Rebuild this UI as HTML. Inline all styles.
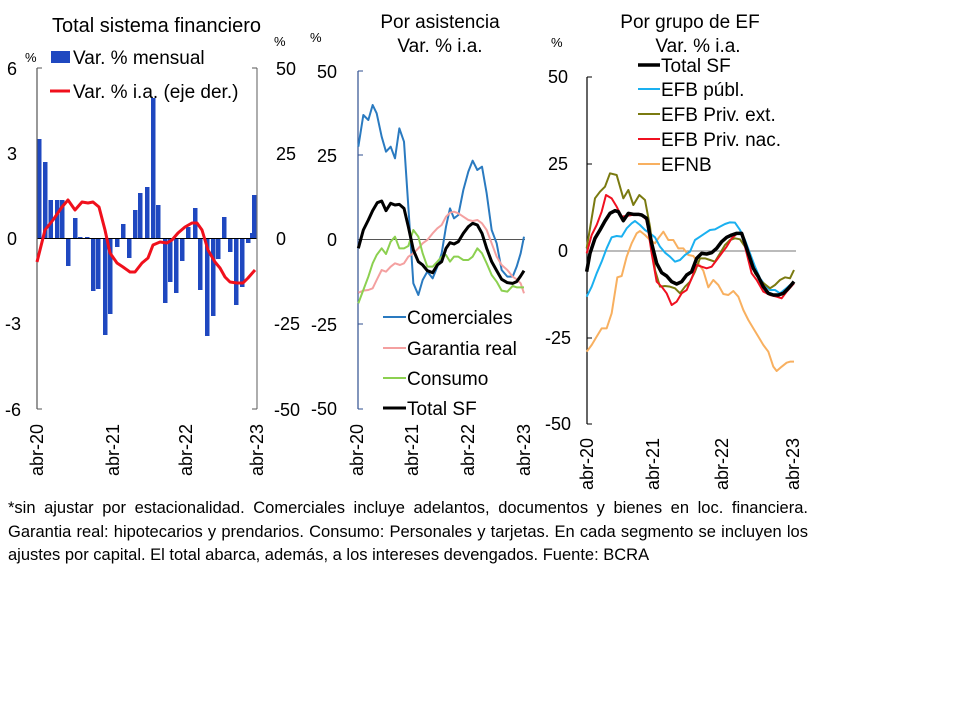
<!DOCTYPE html>
<html><head><meta charset="utf-8"><style>
body{margin:0;background:#fff;width:960px;height:720px;overflow:hidden;font-family:"Liberation Sans",sans-serif}
svg{position:absolute;left:0;top:0}
text{font-family:"Liberation Sans",sans-serif;fill:#000}
.n{vector-effect:non-scaling-stroke;fill:none;stroke-linejoin:round}
#fn{position:absolute;left:8px;top:497px;width:800px;font-size:16.5px;line-height:23.5px;color:#000}
#fn div{text-align:justify;text-align-last:justify;white-space:nowrap}
#fn div.l{text-align-last:left}
</style></head><body>
<svg width="960" height="720" viewBox="0 0 960 720">
<!-- Panel 1 -->
<text x="52" y="32" font-size="20">Total sistema financiero</text>
<rect x="51" y="51" width="19" height="12" fill="#1f48c0"/>
<text x="73" y="64" font-size="19">Var. % mensual</text>
<line x1="50" y1="91" x2="70" y2="91" stroke="#f0101c" stroke-width="3"/>
<text x="73" y="98" font-size="19">Var. % i.a. (eje der.)</text>
<text x="25" y="62" font-size="13">%</text>
<text x="274" y="46" font-size="13">%</text>
<g font-size="18" text-anchor="end">
<text x="17" y="75">6</text><text x="17" y="160">3</text><text x="17" y="245">0</text><text x="21" y="330">-3</text><text x="21" y="416">-6</text>
</g>
<g font-size="18">
<text x="276" y="75">50</text><text x="276" y="160">25</text><text x="276" y="245">0</text><text x="274" y="330">-25</text><text x="274" y="416">-50</text>
</g>
<g fill="#1f48c0">
<rect x="37" y="139" width="4.5" height="99"/>
<rect x="43" y="162" width="4.5" height="76"/>
<rect x="48.5" y="200" width="4.5" height="38"/>
<rect x="55" y="200" width="4.5" height="38"/>
<rect x="60" y="200" width="4.5" height="38"/>
<rect x="66" y="238" width="4.5" height="28"/>
<rect x="73" y="218" width="4.5" height="20"/>
<rect x="78" y="237" width="4.5" height="1"/>
<rect x="85" y="237" width="4.5" height="1"/>
<rect x="91" y="238" width="4.5" height="53"/>
<rect x="96" y="238" width="4.5" height="51"/>
<rect x="103" y="238" width="4.5" height="97"/>
<rect x="108" y="238" width="4.5" height="76"/>
<rect x="115" y="238" width="4.5" height="9"/>
<rect x="121" y="224" width="4.5" height="14"/>
<rect x="127" y="238" width="4.5" height="20"/>
<rect x="133" y="210" width="4.5" height="28"/>
<rect x="138" y="193" width="4.5" height="45"/>
<rect x="145" y="187" width="4.5" height="51"/>
<rect x="151" y="98" width="4.5" height="140"/>
<rect x="156" y="205" width="4.5" height="33"/>
<rect x="163" y="238" width="4.5" height="65"/>
<rect x="168" y="238" width="4.5" height="44"/>
<rect x="174" y="238" width="4.5" height="55"/>
<rect x="180" y="238" width="4.5" height="23"/>
<rect x="186" y="227" width="4.5" height="11"/>
<rect x="193" y="208" width="4.5" height="30"/>
<rect x="198" y="238" width="4.5" height="52"/>
<rect x="205" y="238" width="4.5" height="98"/>
<rect x="211" y="238" width="4.5" height="78"/>
<rect x="216" y="238" width="4.5" height="21"/>
<rect x="222" y="217" width="4.5" height="21"/>
<rect x="228" y="238" width="4.5" height="14"/>
<rect x="234" y="238" width="4.5" height="67"/>
<rect x="240" y="238" width="4.5" height="49"/>
<rect x="246" y="238" width="4.5" height="5"/>
<rect x="250" y="233" width="2" height="5"/>
<rect x="252" y="195" width="4.5" height="43"/>
</g>
<line x1="37" y1="238.5" x2="257" y2="238.5" stroke="#000" stroke-width="1"/>
<line x1="37" y1="68" x2="37" y2="409" stroke="#555" stroke-width="1.2"/>
<line x1="257" y1="68" x2="257" y2="409" stroke="#777" stroke-width="1.2"/>
<g stroke="#555"><line x1="37" y1="68" x2="42" y2="68"/><line x1="37" y1="409" x2="42" y2="409"/><line x1="252" y1="68" x2="257" y2="68"/><line x1="252" y1="409" x2="257" y2="409"/></g>
<polyline fill="none" stroke="#f0101c" stroke-width="3" stroke-linejoin="round" points="37,262 45,230 53,220 62,207 68,200 75,210 82,202 88,203 93,202 99,207 105,230 110,253 117,263 123,267 130,272 135,272 142,263 148,258 153,245 160,242 167,243 172,240 178,233 185,227 192,223 197,223 202,230 208,250 215,262 220,268 225,277 230,282 237,283 243,283 248,278 255,270"/>
<g font-size="18">
<text transform="translate(43,476) rotate(-90)">abr-20</text>
<text transform="translate(119,476) rotate(-90)">abr-21</text>
<text transform="translate(192,476) rotate(-90)">abr-22</text>
<text transform="translate(263,476) rotate(-90)">abr-23</text>
</g>

<!-- Panel 2 -->
<text x="440" y="28" font-size="19" text-anchor="middle">Por asistencia</text>
<text x="440" y="52" font-size="19" text-anchor="middle">Var. % i.a.</text>
<text x="310" y="42" font-size="13">%</text>
<g font-size="18" text-anchor="end">
<text x="337" y="78">50</text><text x="337" y="162">25</text><text x="337" y="246">0</text><text x="337" y="331">-25</text><text x="337" y="415">-50</text>
</g>
<line x1="358" y1="239.5" x2="525" y2="239.5" stroke="#555" stroke-width="1"/>
<line x1="358" y1="71" x2="358" y2="409" stroke="#2f4f8f" stroke-width="1.2"/>
<g stroke="#2f4f8f"><line x1="358" y1="71" x2="363" y2="71"/><line x1="358" y1="155" x2="363" y2="155"/><line x1="358" y1="324" x2="363" y2="324"/><line x1="358" y1="409" x2="363" y2="409"/></g>
<g transform="translate(300,0) scale(0.33333)">
<polyline class="n" stroke="#2a7ac0" stroke-width="2" points="175,440 190,345 205,360 218,315 230,340 245,410 258,455 272,440 285,475 298,385 312,425 325,620 340,850 355,885 368,840 382,815 398,835 412,800 425,760 438,680 450,625 462,655 475,645 490,570 505,515 518,482 532,510 546,500 560,580 575,690 590,730 605,810 622,830 638,830 650,800 662,760 672,710"/>
<polyline class="n" stroke="#f4a0a0" stroke-width="2" points="175,878 190,872 205,870 218,865 230,840 245,810 258,815 272,800 285,790 300,795 312,790 325,770 340,760 355,745 368,730 382,720 398,700 412,685 425,675 438,650 450,638 462,635 475,640 490,650 505,660 518,663 532,660 546,670 560,690 575,730 590,770 605,795 622,810 638,830 650,838 662,850 672,880"/>
<polyline class="n" stroke="#8cd050" stroke-width="2" points="175,910 190,870 205,830 218,790 230,765 245,745 258,762 272,725 285,710 298,745 312,745 325,738 340,690 355,710 368,760 382,800 398,800 412,785 425,770 438,765 450,785 462,770 475,770 490,780 505,780 518,770 532,745 546,760 560,790 575,825 590,845 605,872 622,875 638,858 650,862 672,862"/>
<polyline class="n" stroke="#000" stroke-width="3" points="175,745 190,690 205,660 218,632 232,608 245,603 258,632 272,610 285,615 298,613 312,625 325,680 340,750 355,785 368,795 382,812 398,818 412,795 425,785 438,745 450,728 462,732 475,725 490,700 505,680 518,670 532,675 546,700 560,745 575,785 590,812 605,838 622,848 638,850 650,845 662,828 672,812"/>
</g>
<line x1="383" y1="317" x2="406" y2="317" stroke="#2a7ac0" stroke-width="2"/>
<line x1="383" y1="348" x2="406" y2="348" stroke="#f4a0a0" stroke-width="2"/>
<line x1="383" y1="378" x2="406" y2="378" stroke="#8cd050" stroke-width="2"/>
<line x1="383" y1="408" x2="406" y2="408" stroke="#000" stroke-width="3"/>
<g font-size="19"><text x="407" y="324">Comerciales</text><text x="407" y="355">Garantia real</text><text x="407" y="385">Consumo</text><text x="407" y="415">Total SF</text></g>
<g font-size="18">
<text transform="translate(363,476) rotate(-90)">abr-20</text>
<text transform="translate(418,476) rotate(-90)">abr-21</text>
<text transform="translate(474,476) rotate(-90)">abr-22</text>
<text transform="translate(530,476) rotate(-90)">abr-23</text>
</g>

<!-- Panel 3 -->
<text x="690" y="28" font-size="19" text-anchor="middle">Por grupo de EF</text>
<text x="698" y="52" font-size="19" text-anchor="middle">Var. % i.a.</text>
<text x="551" y="47" font-size="13">%</text>
<g font-size="18" text-anchor="end">
<text x="568" y="83">50</text><text x="568" y="170">25</text><text x="568" y="257">0</text><text x="571" y="344">-25</text><text x="571" y="430">-50</text>
</g>
<line x1="587" y1="251" x2="796" y2="251" stroke="#777" stroke-width="1"/>
<line x1="587" y1="77" x2="587" y2="424" stroke="#000" stroke-width="1.2"/>
<g stroke="#000"><line x1="587" y1="77" x2="592" y2="77"/><line x1="587" y1="164" x2="592" y2="164"/><line x1="587" y1="338" x2="592" y2="338"/><line x1="587" y1="424" x2="592" y2="424"/></g>
<g transform="translate(540,0) scale(0.33333)">
<polyline class="n" stroke="#f8b060" stroke-width="2" points="140,1055 155,1035 170,1010 185,985 200,985 215,940 232,832 245,828 260,770 275,730 290,700 300,693 315,705 330,720 345,730 355,715 370,695 385,720 400,720 415,745 430,745 445,765 460,768 475,790 490,812 505,862 520,840 535,855 550,882 565,885 580,873 595,890 610,930 625,960 640,985 655,1010 670,1035 685,1055 700,1100 710,1113 725,1100 740,1088 750,1085 762,1085"/>
<polyline class="n" stroke="#1ab0f0" stroke-width="2" points="140,890 155,860 170,820 185,785 200,745 215,712 230,708 245,710 260,685 275,670 285,663 300,675 315,690 330,700 345,712 360,740 375,758 390,770 405,785 420,780 435,765 450,755 465,720 480,710 495,700 510,690 525,688 540,680 555,672 570,667 585,668 600,690 615,720 630,760 645,800 660,835 675,855 690,870 705,870 720,880 735,868 750,855 762,850"/>
<polyline class="n" stroke="#7a7a10" stroke-width="2" points="140,745 165,595 180,575 195,560 210,520 230,525 250,595 265,570 280,615 298,585 315,600 330,680 345,810 360,860 375,858 390,860 405,865 420,880 435,860 450,845 465,815 480,775 495,775 510,780 525,785 540,760 555,735 570,720 585,715 600,718 615,740 630,780 645,820 665,845 690,865 705,855 720,840 735,832 750,835 762,810"/>
<polyline class="n" stroke="#f01020" stroke-width="2" points="140,760 155,705 170,675 185,635 198,585 215,595 230,620 245,650 260,648 275,645 290,645 305,645 320,660 335,760 350,845 365,860 380,880 395,915 410,905 425,880 440,870 455,835 470,795 485,800 500,805 515,800 530,780 545,760 560,740 575,715 590,702 605,698 620,760 635,820 650,840 670,875 690,885 710,890 725,895 740,875 762,850"/>
<polyline class="n" stroke="#000" stroke-width="3.5" points="140,815 150,760 165,715 180,690 195,663 210,640 225,632 235,635 250,662 265,640 280,643 295,643 305,645 320,655 335,730 350,790 365,818 380,828 395,845 410,852 425,845 440,825 455,815 470,775 485,760 500,762 515,758 530,745 545,725 560,712 575,705 590,700 605,700 620,745 640,805 655,830 670,860 685,880 700,885 715,885 730,880 745,865 762,845"/>
</g>
<line x1="638" y1="65" x2="660" y2="65" stroke="#000" stroke-width="3.5"/>
<line x1="638" y1="89" x2="660" y2="89" stroke="#1ab0f0" stroke-width="2"/>
<line x1="638" y1="114" x2="660" y2="114" stroke="#7a7a10" stroke-width="2"/>
<line x1="638" y1="139" x2="660" y2="139" stroke="#f01020" stroke-width="2"/>
<line x1="638" y1="164" x2="660" y2="164" stroke="#f8b060" stroke-width="2"/>
<g font-size="19"><text x="661" y="72">Total SF</text><text x="661" y="96">EFB públ.</text><text x="661" y="121">EFB Priv. ext.</text><text x="661" y="146">EFB Priv. nac.</text><text x="661" y="171">EFNB</text></g>
<g font-size="18">
<text transform="translate(593,490) rotate(-90)">abr-20</text>
<text transform="translate(659,490) rotate(-90)">abr-21</text>
<text transform="translate(728,490) rotate(-90)">abr-22</text>
<text transform="translate(799,490) rotate(-90)">abr-23</text>
</g>
</svg>
<div id="fn"><div>*sin ajustar por estacionalidad. Comerciales incluye adelantos, documentos y bienes en loc. financiera.</div><div>Garantia real: hipotecarios y prendarios. Consumo: Personales y tarjetas. En cada segmento se incluyen los</div><div class="l">ajustes por capital. El total abarca, además, a los intereses devengados. Fuente: BCRA</div></div>
</body></html>
